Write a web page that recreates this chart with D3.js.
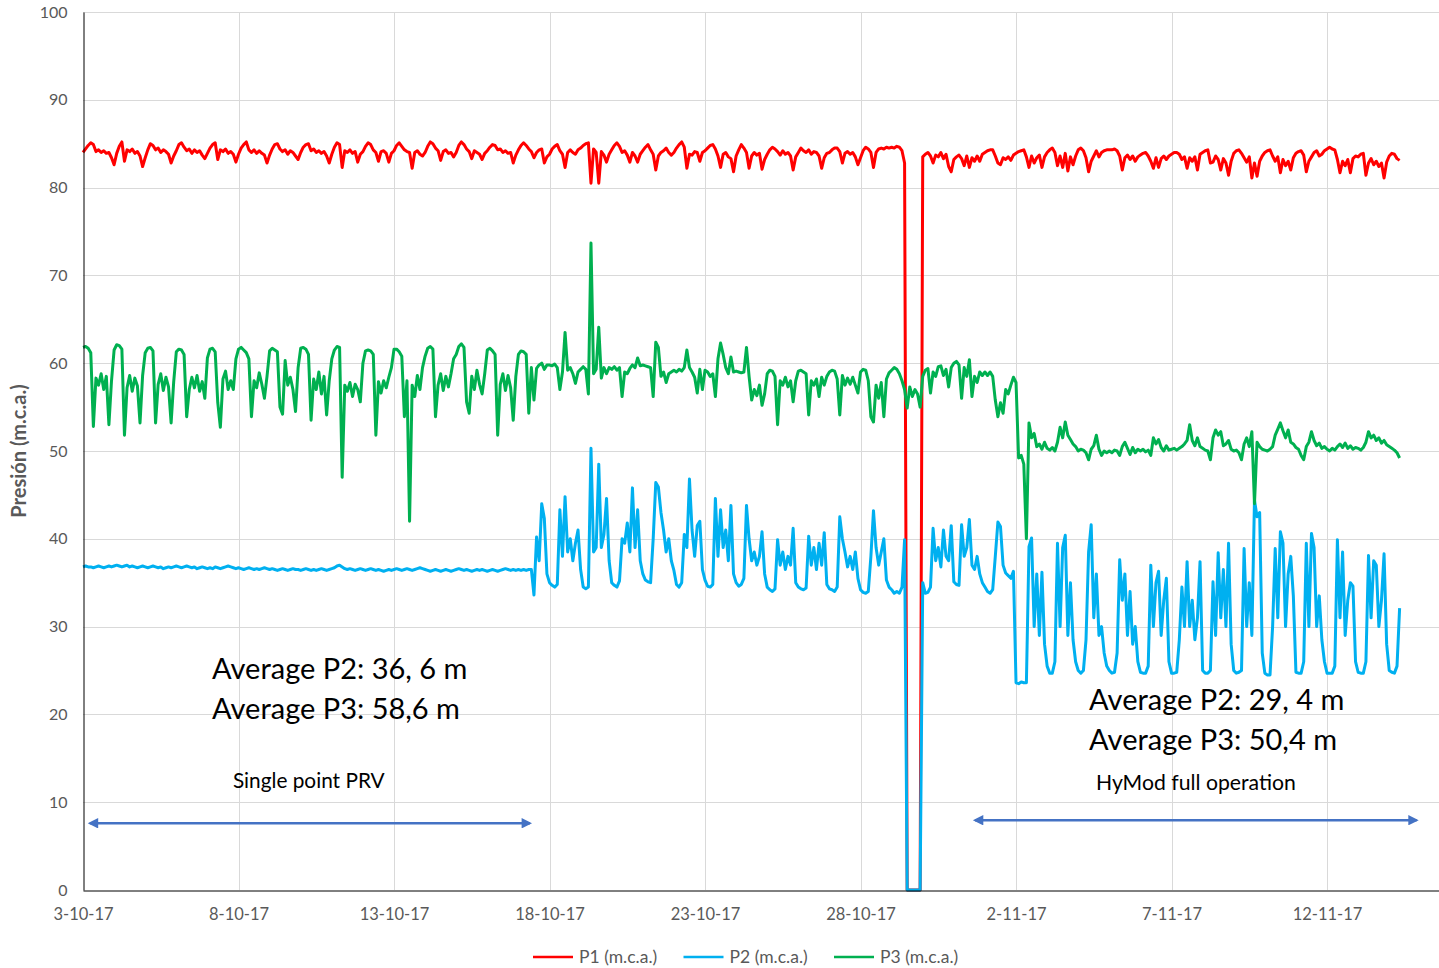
<!DOCTYPE html>
<html>
<head>
<meta charset="utf-8">
<script src="https://cdn.jsdelivr.net/npm/d3@7"></script>
<style>
  body { margin: 0; background: #fff; }
  text { font-family: Lato, "Open Sans", sans-serif; }
</style>
</head>
<body>
<svg id="chart" width="1439" height="968"></svg>
<script>
// readings every 2 hours from 3-10-17 00:00, one row per day (12 readings)
var stepHours = 2;
var startDay = "3-10-17";

var p1Rows = [
  [84.0,84.4,84.8,85.1,84.9,84.1,84.3,84.0,84.2,83.9,84.0,83.4],
  [82.6,83.9,84.7,85.2,83.0,84.3,84.1,84.4,83.9,84.1,83.6,82.4],
  [83.4,84.3,85.0,84.8,84.3,84.5,84.0,84.3,84.1,83.8,82.8,83.6],
  [84.2,84.9,85.1,84.6,84.2,84.4,83.9,84.3,84.0,84.2,83.7,83.3],
  [83.9,84.5,84.9,85.1,83.2,84.3,84.1,84.4,83.9,84.1,83.8,82.9],
  [83.8,84.5,84.9,85.2,84.3,84.0,84.3,83.9,84.2,83.9,83.7,82.8],
  [83.7,84.4,84.9,85.0,84.4,84.1,84.3,83.8,84.2,84.0,83.6,83.2],
  [84.0,84.6,84.9,85.0,84.2,84.4,84.0,84.2,83.9,84.1,83.6,82.8],
  [83.8,84.6,85.1,84.9,82.3,84.2,84.0,84.3,83.9,84.1,82.9,83.8],
  [84.1,84.7,85.1,84.9,84.3,84.0,83.0,84.1,84.2,83.9,82.9,83.9],
  [84.2,84.8,85.1,84.7,84.3,84.1,84.0,82.2,84.0,84.2,83.8,83.6],
  [84.0,84.7,85.2,85.0,84.5,84.2,83.1,84.1,84.3,83.9,84.0,83.5],
  [84.0,84.8,85.2,84.9,84.4,84.1,83.3,84.2,84.0,83.8,83.2,83.9],
  [84.2,84.6,84.9,84.8,84.3,84.4,84.0,84.2,83.9,84.0,82.8,83.7],
  [84.3,84.8,85.1,84.8,84.4,84.1,83.4,84.0,84.3,84.4,82.8,83.5],
  [83.8,84.4,84.7,84.9,84.2,83.8,82.3,84.0,84.3,84.0,83.8,84.3],
  [84.5,84.8,85.0,85.1,80.5,84.4,84.0,80.5,84.1,83.7,82.9,83.8],
  [84.3,84.8,85.1,84.7,84.0,84.2,83.7,82.9,84.0,83.6,82.9,83.8],
  [84.2,84.6,84.9,84.3,83.8,82.0,83.6,84.0,84.2,84.5,84.0,83.7],
  [84.0,84.5,84.9,85.2,84.6,82.2,83.8,83.7,84.1,84.0,83.0,84.0],
  [84.2,84.5,84.8,84.9,84.4,83.6,82.3,83.8,84.0,83.5,83.3,81.8],
  [83.6,84.3,84.9,84.5,84.0,82.2,83.6,84.0,83.7,83.9,82.1,83.2],
  [83.8,84.3,84.6,84.4,84.1,83.7,84.2,83.8,84.0,83.6,82.0,83.5],
  [84.0,84.5,84.2,84.0,84.3,83.8,84.1,84.0,83.6,82.2,83.4,83.9],
  [84.0,84.3,84.5,84.5,84.1,82.8,83.9,84.1,83.8,84.0,83.5,82.6],
  [83.4,84.2,84.6,84.4,84.0,82.3,84.0,84.4,84.5,84.4,84.6,84.5],
  [84.6,84.5,84.7,84.6,84.2,82.8,0,0,0,0,0,0],
  [83.5,83.8,84.0,83.6,82.8,83.7,83.5,84.0,83.3,83.8,82.4,81.8],
  [83.2,83.5,83.7,83.3,82.5,83.6,82.3,83.4,83.0,83.6,83.0,83.8],
  [84.0,84.2,84.3,84.3,83.6,82.8,82.6,83.4,83.2,83.5,83.1,83.7],
  [83.9,84.1,84.2,84.3,83.5,82.3,83.6,82.8,83.4,83.7,82.3,83.5],
  [84.0,84.3,84.5,84.0,82.5,83.6,82.3,83.9,81.9,83.5,82.6,83.6],
  [84.3,84.5,84.2,83.4,81.8,83.0,83.6,84.2,83.5,84.0,84.2,84.3],
  [84.3,84.3,84.4,84.2,83.6,82.0,83.4,83.7,83.2,83.6,83.0,83.5],
  [83.7,83.9,84.0,83.6,83.0,82.2,83.4,82.3,83.3,83.6,83.2,83.6],
  [83.8,84.0,84.0,83.8,83.2,83.5,82.2,83.4,83.0,83.5,82.0,83.8],
  [84.0,84.2,84.3,82.8,82.9,83.6,83.2,82.0,83.3,82.8,81.4,83.0],
  [83.9,84.2,84.3,83.9,83.4,82.9,83.5,81.1,82.8,81.3,83.0,83.6],
  [84.0,84.2,84.3,83.6,83.0,83.5,81.7,83.2,82.5,83.0,82.0,83.4],
  [83.9,84.1,84.2,83.7,81.8,83.0,83.5,84.0,84.2,83.6,83.8,84.2],
  [84.4,84.6,84.4,84.3,83.2,81.7,83.0,82.5,83.2,81.7,83.3,83.6],
  [83.5,83.8,83.9,81.4,82.8,83.3,82.6,83.0,82.4,82.8,81.1,82.9],
  [83.6,83.9,83.8,83.3,83.1]
];

var p2Rows = [
  [36.8,36.9,36.8,36.8,36.7,36.8,36.9,36.8,36.7,36.8,36.9,36.8],
  [36.9,37.0,36.9,36.8,36.9,37.0,36.8,36.9,36.8,36.7,36.8,36.9],
  [36.8,36.7,36.8,36.9,36.8,36.7,36.8,36.6,36.7,36.8,36.7,36.8],
  [36.9,36.8,36.7,36.8,36.9,36.8,36.7,36.8,36.6,36.7,36.8,36.7],
  [36.6,36.7,36.6,36.8,36.7,36.6,36.7,36.8,36.9,36.8,36.7,36.6],
  [36.7,36.6,36.5,36.6,36.7,36.6,36.5,36.6,36.5,36.6,36.7,36.6],
  [36.5,36.6,36.5,36.4,36.5,36.6,36.5,36.4,36.5,36.6,36.5,36.5],
  [36.4,36.5,36.6,36.5,36.4,36.5,36.4,36.5,36.6,36.5,36.4,36.5],
  [36.6,36.7,36.9,37.0,36.8,36.6,36.5,36.6,36.5,36.4,36.5,36.6],
  [36.5,36.4,36.5,36.6,36.5,36.4,36.5,36.4,36.3,36.4,36.5,36.4],
  [36.5,36.6,36.5,36.4,36.5,36.6,36.5,36.4,36.5,36.6,36.7,36.6],
  [36.5,36.4,36.3,36.4,36.5,36.4,36.3,36.4,36.5,36.4,36.3,36.4],
  [36.5,36.6,36.5,36.4,36.5,36.4,36.3,36.4,36.5,36.4,36.5,36.4],
  [36.3,36.4,36.5,36.4,36.3,36.4,36.5,36.6,36.5,36.4,36.5,36.4],
  [36.5,36.4,36.5,36.4,36.5,36.5,33.6,40.2,37.5,44.0,42.3,36.0],
  [35.0,34.7,34.5,34.8,43.3,38.0,44.8,38.5,40.0,37.5,39.5,41.0],
  [36.5,34.5,34.3,34.5,50.3,38.5,39.0,48.5,39.0,40.5,44.6,37.5],
  [35.0,34.7,34.5,35.2,40.0,39.5,41.8,38.5,45.8,39.0,43.3,37.5],
  [36.0,35.3,35.1,35.0,40.0,46.4,45.9,43.0,41.0,38.5,40.0,37.5],
  [36.4,34.8,34.5,35.0,40.5,39.0,46.8,41.0,38.0,41.5,42.0,36.5],
  [35.3,34.6,34.5,34.8,44.6,38.0,43.3,39.0,41.0,37.5,43.8,36.0],
  [35.0,34.6,34.8,35.5,43.8,40.0,37.5,38.5,37.0,38.0,40.8,36.0],
  [34.5,34.2,34.0,34.3,39.9,37.0,38.5,36.5,38.0,37.0,41.2,35.0],
  [34.5,34.3,34.2,34.4,40.3,37.0,39.0,36.5,39.5,37.0,40.7,34.8],
  [34.3,34.2,34.0,34.5,42.5,40.0,38.5,36.8,38.0,36.5,38.5,35.5],
  [34.2,33.9,33.8,34.0,38.0,43.2,39.0,37.0,38.5,40.0,35.3,34.5],
  [34.2,33.8,34.0,33.8,34.5,39.9,0,0,0,0,0,0],
  [35.0,33.8,33.9,34.5,41.2,37.5,39.0,36.8,41.0,38.0,37.5,41.5],
  [35.1,34.8,34.7,41.6,38.0,39.0,42.2,37.0,36.5,38.0,36.0,35.0],
  [34.5,34.0,33.8,34.2,38.0,41.9,41.4,37.0,36.1,35.8,35.5,36.3],
  [23.6,23.5,23.7,23.6,23.6,39.1,40.1,30.0,36.0,29.0,36.2,28.0],
  [25.5,24.7,24.7,26.0,39.5,30.0,39.0,40.4,29.0,35.0,28.5,26.0],
  [25.0,24.7,25.0,28.5,38.5,41.6,31.0,36.0,29.0,30.0,27.0,25.5],
  [25.0,24.7,24.8,27.0,37.6,33.0,36.0,29.0,34.0,28.0,30.0,26.0],
  [24.8,24.7,24.7,25.5,37.0,30.0,35.0,36.3,29.0,33.0,35.5,26.0],
  [24.7,24.7,24.8,28.5,34.5,30.0,37.4,30.0,33.0,28.5,31.0,37.4],
  [25.0,24.7,24.7,25.0,35.1,29.0,38.4,31.0,36.5,30.0,39.5,28.0],
  [25.0,24.7,24.8,25.0,38.9,30.0,35.0,29.0,44.4,42.5,43.0,27.0],
  [24.7,24.5,24.5,30.0,38.9,31.0,40.8,39.5,30.0,36.0,38.0,33.5],
  [24.8,24.7,24.7,26.0,39.5,30.0,40.6,39.0,30.0,33.5,28.5,26.0],
  [24.7,24.7,24.7,25.5,39.9,31.0,38.5,29.0,33.0,35.0,34.6,26.0],
  [24.8,24.7,24.7,26.0,38.1,31.0,37.5,37.0,30.0,33.0,38.3,28.0],
  [25.0,24.8,24.7,25.5,32.1]
];

var p3Rows = [
  [61.8,61.9,61.7,61.2,52.8,58.3,57.5,58.8,57.0,58.5,53.0,58.0],
  [61.5,62.1,62.0,61.6,51.8,57.2,58.6,56.8,58.3,57.4,53.2,58.6],
  [61.2,61.7,61.8,61.4,53.2,57.6,58.8,56.9,58.4,57.3,53.2,57.9],
  [61.3,61.6,61.5,61.0,53.9,57.0,58.4,57.2,58.6,56.8,57.9,56.0],
  [60.6,61.6,61.7,61.3,55.5,52.7,58.2,59.1,57.0,58.0,57.0,60.5],
  [61.6,61.8,61.5,61.2,60.5,53.9,58.0,57.2,58.9,57.6,56.0,58.5],
  [61.4,61.7,61.5,61.3,55.0,54.2,60.3,57.5,58.4,57.0,54.5,59.5],
  [61.7,61.8,61.6,61.0,53.5,58.2,57.0,59.0,56.5,58.5,54.1,58.0],
  [60.5,61.5,61.9,61.8,47.0,57.5,56.8,57.8,56.2,57.6,57.0,55.6],
  [60.0,61.4,61.5,61.4,61.0,51.8,57.9,56.6,58.0,57.2,58.4,59.5],
  [61.6,61.6,61.3,60.8,53.9,58.0,42.0,57.5,56.2,58.6,57.0,59.5],
  [60.8,61.7,61.9,61.6,53.9,57.5,58.8,56.9,58.5,57.3,58.8,60.5],
  [61.0,61.9,62.2,61.8,55.6,54.3,58.5,57.0,59.2,57.6,56.5,58.8],
  [61.5,61.7,61.4,61.0,51.8,57.6,58.8,56.9,58.6,57.2,53.5,58.5],
  [61.0,61.4,61.3,61.0,54.3,59.5,55.8,59.4,59.8,60.0,59.3,59.8],
  [59.8,59.7,59.9,59.5,57.0,59.0,63.5,59.2,59.5,58.8,57.7,59.0],
  [59.3,59.6,59.3,56.5,73.7,58.8,59.3,64.1,58.3,59.5,58.8,59.5],
  [59.3,59.6,59.2,59.5,56.2,59.0,58.8,59.4,59.8,59.5,60.6,59.7],
  [59.8,59.7,59.6,59.5,56.2,62.4,61.8,58.5,59.0,57.8,58.8,59.0],
  [59.2,59.0,59.3,59.1,59.5,61.5,59.5,59.0,58.4,56.6,59.3,57.0],
  [59.2,59.0,58.5,58.8,56.2,60.5,62.3,61.0,59.5,58.8,60.7,59.0],
  [59.1,59.0,58.9,59.0,61.8,58.5,55.8,57.0,56.3,57.5,55.2,56.5],
  [58.8,59.2,59.1,58.5,53.0,58.0,57.5,58.4,57.3,58.0,55.6,58.0],
  [59.1,59.2,59.0,58.8,54.1,58.0,57.5,58.2,56.2,58.4,57.5,58.5],
  [59.0,59.2,59.1,58.2,54.1,58.6,57.5,58.3,57.6,58.4,57.5,56.6],
  [59.0,59.3,59.2,58.0,53.9,53.3,57.5,56.0,57.8,53.9,58.2,58.9],
  [59.2,59.5,59.3,58.8,58.0,57.0,54.9,57.3,56.2,57.0,56.5,55.0],
  [58.5,59.2,59.4,56.6,59.0,58.5,59.6,59.7,58.6,59.3,57.3,59.5],
  [60.0,60.2,59.8,56.0,59.5,58.5,60.4,56.2,58.5,57.8,59.0,58.6],
  [59.0,58.6,59.0,58.5,55.8,53.9,55.5,54.3,57.0,56.5,57.5,58.4],
  [57.8,49.2,49.5,48.5,40.0,53.2,51.5,52.0,50.5,50.8,50.2,51.0],
  [50.3,50.1,50.4,50.0,51.0,52.7,51.5,53.3,51.8,51.3,50.8,50.5],
  [50.0,50.2,50.1,49.8,49.0,50.2,50.6,51.8,50.2,49.5,50.0,49.8],
  [50.0,49.8,50.1,50.0,49.5,50.5,51.0,50.3,49.6,50.4,49.8,50.2],
  [50.0,50.2,49.9,50.1,49.5,51.5,50.8,51.3,50.4,50.0,50.6,50.1],
  [50.2,50.3,50.1,50.3,50.5,50.8,51.2,53.0,51.2,50.6,51.5,50.5],
  [50.3,50.1,50.0,49.0,51.5,52.4,51.8,52.2,50.6,50.8,51.2,50.2],
  [50.0,50.1,49.8,49.0,50.8,51.5,50.5,52.2,44.0,51.0,50.5,50.2],
  [50.1,50.0,50.2,50.5,51.8,52.5,53.2,52.3,51.5,52.4,51.0,50.8],
  [50.4,50.2,49.5,49.0,50.5,51.0,52.2,51.2,50.6,50.9,50.3,50.5],
  [50.2,50.0,50.3,50.1,50.5,50.8,50.4,50.9,50.3,50.6,50.2,50.4],
  [50.3,50.1,50.4,51.0,52.2,51.5,51.8,51.2,51.5,50.9,51.2,50.7],
  [50.5,50.3,50.1,49.8,49.2]
];

var seriesNames = ["P1 (m.c.a.)", "P2 (m.c.a.)", "P3 (m.c.a.)"];
var seriesColors = ["#ff0000", "#00b0f0", "#00b050"];
var xTickLabels = ["3-10-17", "8-10-17", "13-10-17", "18-10-17", "23-10-17", "28-10-17", "2-11-17", "7-11-17", "12-11-17"];
var yTicks = [0, 10, 20, 30, 40, 50, 60, 70, 80, 90, 100];
var axisEndDays = 43.6;

var plotLeft = 83, plotRight = 1439, plotTop = 12, plotBottom = 890;

var parseDay = d3.utcParse("%d-%m-%y");
var t0 = parseDay(startDay);
var hour = 3600 * 1000;
var timeAt = function(i) { return new Date(t0.getTime() + i * stepHours * hour) };
var dayDate = function(d) { return new Date(t0.getTime() + d * 24 * hour) };

var x = d3.scaleUtc()
  .domain([t0, dayDate(axisEndDays)])
  .range([plotLeft, plotRight]);
var y = d3.scaleLinear().domain([0, 100]).range([plotBottom, plotTop]);

var svg = d3.select("#chart");

// gridlines
svg.append("g").selectAll("line")
  .data(yTicks.slice(1))
  .enter().append("line")
    .attr("x1", plotLeft).attr("x2", plotRight)
    .attr("y1", function(d) { return Math.round(y(d)) + 0.5 })
    .attr("y2", function(d) { return Math.round(y(d)) + 0.5 })
    .attr("stroke", "#d9d9d9").attr("stroke-width", 1);

var tickDates = xTickLabels.map(function(s) { return parseDay(s) });

svg.append("g").selectAll("line")
  .data(tickDates.slice(1))
  .enter().append("line")
    .attr("x1", function(d) { return Math.round(x(d)) + 0.5 })
    .attr("x2", function(d) { return Math.round(x(d)) + 0.5 })
    .attr("y1", plotTop).attr("y2", plotBottom)
    .attr("stroke", "#d9d9d9").attr("stroke-width", 1);

// series, P3 drawn last (on top)
var line = d3.line()
  .x(function(d, i) { return x(timeAt(i)) })
  .y(function(d) { return y(d) });

[p1Rows, p2Rows, p3Rows].forEach(function(rows, k) {
  svg.append("path")
    .datum(rows.flat())
    .attr("d", line)
    .attr("fill", "none")
    .attr("stroke", seriesColors[k])
    .attr("stroke-width", 3)
    .attr("stroke-linejoin", "round");
});

// axes
var yAxis = svg.append("g")
  .attr("transform", "translate(" + (plotLeft + 0.5) + ",0)")
  .call(d3.axisLeft(y).tickValues(yTicks).tickSize(0).tickSizeOuter(0).tickPadding(16));
yAxis.select(".domain").attr("stroke", "#000").attr("stroke-width", 1);
yAxis.selectAll("text").attr("fill", "#595959").style("font-size", "16px");

var xAxis = svg.append("g")
  .attr("transform", "translate(0," + (plotBottom + 0.5) + ")")
  .call(d3.axisBottom(x).tickValues(tickDates)
    .tickFormat(function(d, i) { return xTickLabels[i] })
    .tickSize(0).tickSizeOuter(0).tickPadding(18));
xAxis.select(".domain").attr("stroke", "#000").attr("stroke-width", 1);
xAxis.selectAll("text").attr("fill", "#595959").style("font-size", "16.5px");

svg.append("text")
  .attr("transform", "translate(26," + ((plotTop + plotBottom) / 2) + ") rotate(-90)")
  .attr("text-anchor", "middle")
  .attr("fill", "#595959")
  .style("font-size", "20px")
  .style("font-weight", "bold")
  .text("Presión (m.c.a.)");

// annotations
var notes = [
  { day: 4.15, v: 24.0, size: 29, text: "Average P2: 36, 6 m" },
  { day: 4.15, v: 19.5, size: 29, text: "Average P3: 58,6 m" },
  { day: 32.35, v: 20.5, size: 29, text: "Average P2: 29, 4 m" },
  { day: 32.35, v: 16.0, size: 29, text: "Average P3: 50,4 m" },
  { day: 4.82, v: 11.6, size: 20.8, text: "Single point PRV" },
  { day: 32.57, v: 11.4, size: 21.2, text: "HyMod full operation" }
];
svg.append("g").selectAll("text")
  .data(notes)
  .enter().append("text")
    .attr("x", function(d) { return x(dayDate(d.day)) })
    .attr("y", function(d) { return y(d.v) })
    .attr("fill", "#000")
    .style("font-size", function(d) { return d.size + "px" })
    .text(function(d) { return d.text });

var defs = svg.append("defs");
defs.append("marker")
  .attr("id", "arrowHead")
  .attr("viewBox", "0 0 10 10")
  .attr("refX", 8).attr("refY", 5)
  .attr("markerWidth", 4.5).attr("markerHeight", 4)
  .attr("orient", "auto-start-reverse")
  .append("path")
    .attr("d", "M0,0L10,5L0,10z")
    .attr("fill", "#4472c4");

var arrows = [
  { from: 0.22, to: 14.37, v: 7.6 },
  { from: 28.68, to: 42.88, v: 7.95 }
];
svg.append("g").selectAll("line")
  .data(arrows)
  .enter().append("line")
    .attr("x1", function(d) { return x(dayDate(d.from)) })
    .attr("x2", function(d) { return x(dayDate(d.to)) })
    .attr("y1", function(d) { return y(d.v) })
    .attr("y2", function(d) { return y(d.v) })
    .attr("stroke", "#4472c4")
    .attr("stroke-width", 2.6)
    .attr("marker-start", "url(#arrowHead)")
    .attr("marker-end", "url(#arrowHead)");

// legend
var legend = svg.append("g").attr("transform", "translate(533,957)");
var item = legend.selectAll("g")
  .data(seriesNames)
  .enter().append("g")
    .attr("transform", function(d, i) { return "translate(" + (i * 150.5) + ",0)" });
item.append("line")
  .attr("x1", 0).attr("x2", 40)
  .attr("stroke", function(d, i) { return seriesColors[i] })
  .attr("stroke-width", 2.6);
item.append("text")
  .attr("x", 46).attr("dy", "0.35em")
  .attr("fill", "#595959")
  .style("font-size", "17.5px")
  .text(function(d) { return d });
</script>
</body>
</html>
